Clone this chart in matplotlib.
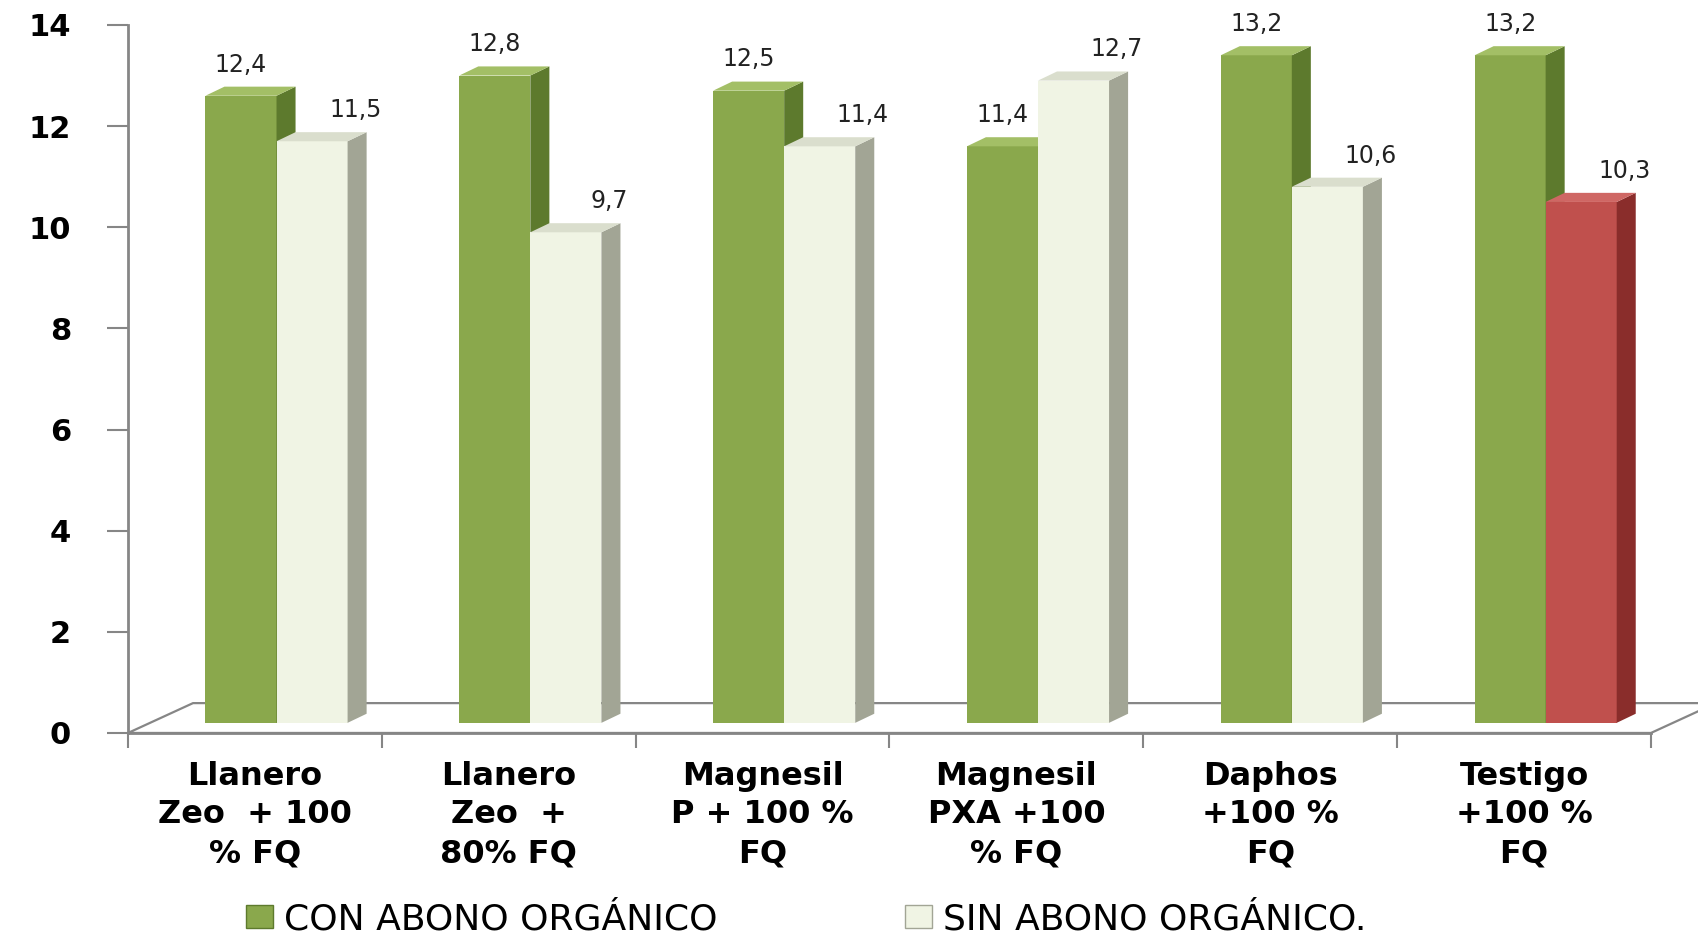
import matplotlib
matplotlib.use("Agg")
import matplotlib.pyplot as plt
from matplotlib.patches import Rectangle, Polygon, Patch

# ---- data ----
categories = ["Llanero\nZeo  + 100\n% FQ", "Llanero\nZeo  +\n80% FQ",
              "Magnesil\nP + 100 %\nFQ", "Magnesil\nPXA +100\n% FQ",
              "Daphos\n+100 %\nFQ", "Testigo\n+100 %\nFQ"]
con_abono = [12.4, 12.8, 12.5, 11.4, 13.2, 13.2]
sin_abono = [11.5, 9.7, 11.4, 12.7, 10.6, 10.3]
series_names = ["CON ABONO ORGÁNICO", "SIN ABONO ORGÁNICO."]
y_ticks = [0, 2, 4, 6, 8, 10, 12, 14]

# ---- style ----
GREEN = ("#8aa84c", "#5d7a2d", "#a3bf66")      # front, side, top
LIGHT = ("#f0f4e4", "#a2a595", "#dadecd")
RED = ("#c0504d", "#8a2d2b", "#cf6764")
sin_colors = [LIGHT, LIGHT, LIGHT, LIGHT, LIGHT, RED]
AXC = "#868686"
W = 0.28          # bar front width
SX, SY = 0.085, 0.2   # bar offset into floor depth
DX, DY = 0.075, 0.18  # bar depth
FDX, FDY = 0.256, 0.59  # floor depth

fig = plt.figure(figsize=(16.98, 9.38), dpi=100)
ax = fig.add_axes([0.0754, 0.2186, 0.8969, 0.7548])
ax.set_xlim(-0.5, len(categories) - 0.5)
ax.set_ylim(0, 14)

# floor
ax.add_patch(Polygon([(-0.5, 0), (len(categories) - 0.5, 0),
                      (len(categories) - 0.5 + FDX, FDY), (-0.5 + FDX, FDY)],
                     closed=True, facecolor="white", edgecolor=AXC, lw=1.6,
                     clip_on=False, zorder=1))


def bar3d(x0, val, cols):
    b = SY
    t = SY + val
    ax.add_patch(Rectangle((x0, b), W, val, facecolor=cols[0], edgecolor="none",
                           clip_on=False, zorder=3))
    ax.add_patch(Polygon([(x0 + W, b), (x0 + W + DX, b + DY), (x0 + W + DX, t + DY), (x0 + W, t)],
                         closed=True, facecolor=cols[1], edgecolor="none", clip_on=False, zorder=3))
    ax.add_patch(Polygon([(x0, t), (x0 + DX, t + DY), (x0 + W + DX, t + DY), (x0 + W, t)],
                         closed=True, facecolor=cols[2], edgecolor="none", clip_on=False, zorder=3))


def fmt(v):
    return f"{v:.1f}".replace(".", ",")


for i, (c, s) in enumerate(zip(con_abono, sin_abono)):
    xc = i + SX
    bar3d(xc - W, c, GREEN)
    bar3d(xc, s, sin_colors[i])
    ax.text(xc - W / 2, SY + c + DY + 0.2, fmt(c), ha="center", va="bottom",
            fontsize=17, color="#222222", zorder=5)
    ax.text(xc + W + 0.03, SY + s + DY + 0.2, fmt(s), ha="center", va="bottom",
            fontsize=17, color="#222222", zorder=5)

# axes styling
for sp in ["top", "right"]:
    ax.spines[sp].set_visible(False)
for sp in ["left", "bottom"]:
    ax.spines[sp].set_color(AXC)
    ax.spines[sp].set_linewidth(2)
    ax.spines[sp].set_zorder(2)

ax.set_yticks(y_ticks)
ax.set_yticklabels([str(v) for v in y_ticks], fontsize=22, fontweight="bold")
ax.tick_params(axis="y", length=15, width=1.5, color=AXC, pad=26)

n = len(categories)
ax.set_xticks([i - 0.5 for i in range(n + 1)])
ax.set_xticklabels([""] * (n + 1))
ax.tick_params(axis="x", which="major", length=11, width=1.5, color=AXC)
ax.set_xticks(list(range(n)), minor=True)
ax.set_xticklabels(categories, minor=True, fontsize=23, fontweight="bold",
                   linespacing=1.32)
ax.tick_params(axis="x", which="minor", length=0, pad=20)

handles = [Patch(facecolor=GREEN[0], edgecolor=GREEN[1]),
           Patch(facecolor=LIGHT[0], edgecolor=LIGHT[1])]
fig.legend(handles, series_names, loc="center left", bbox_to_anchor=(0.134, 0.02),
           ncol=2, frameon=False, fontsize=26, handlelength=0.75, handleheight=0.6,
           handletextpad=0.3, columnspacing=5.2, borderpad=0)

fig.savefig("out.png", dpi=100, facecolor="white")
